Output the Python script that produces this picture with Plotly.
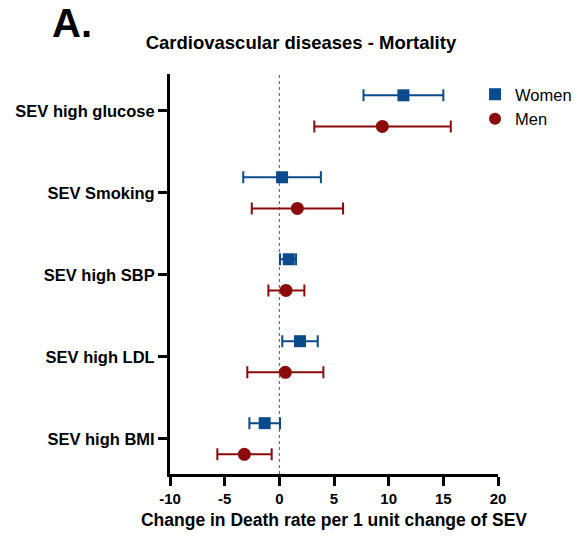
import plotly.graph_objects as go

categories = ["SEV high glucose", "SEV Smoking", "SEV high SBP", "SEV high LDL", "SEV high BMI"]
women_est = [11.35, 0.25, 0.86, 1.89, -1.34]
women_lo = [7.7, -3.3, 0.06, 0.27, -2.74]
women_hi = [15.0, 3.8, 1.53, 3.51, 0.06]
men_est = [9.42, 1.65, 0.61, 0.55, -3.2]
men_lo = [3.2, -2.52, -1.0, -2.93, -5.67]
men_hi = [15.68, 5.83, 2.29, 4.03, -0.7]
x_ticks = [-10, -5, 0, 5, 10, 15, 20]

BLUE = "#0b4a8b"
RED = "#8b0a0a"
OFF = 0.19

pos = list(range(len(categories)))

fig = go.Figure()


def add_series(name, est, lo, hi, color, symbol, size, off):
    fig.add_trace(go.Scatter(
        x=est,
        y=[p + off for p in pos],
        mode="markers",
        name=name,
        marker=dict(color=color, symbol=symbol, size=size),
        error_x=dict(
            type="data", symmetric=False,
            array=[h - e for h, e in zip(hi, est)],
            arrayminus=[e - l for e, l in zip(est, lo)],
            color=color, thickness=2, width=6,
        ),
    ))


add_series("Women", women_est, women_lo, women_hi, BLUE, "square", 12, -OFF)
add_series("Men", men_est, men_lo, men_hi, RED, "circle", 13, OFF)

fig.add_shape(type="line", xref="x", yref="paper", x0=0, x1=0, y0=0, y1=1,
              line=dict(color="#555555", width=1, dash="dot"), layer="below")

fig.add_annotation(text="<b>A.</b>", xref="paper", yref="paper", x=-0.366, y=1.1275,
                   xanchor="left", yanchor="middle", showarrow=False,
                   font=dict(size=40, color="black", family="Arial"))

fig.update_layout(
    width=571, height=532,
    margin=dict(l=162, r=81, t=66, b=66, autoexpand=False),
    paper_bgcolor="white", plot_bgcolor="white",
    font=dict(family="Arial", color="black"),
    title=dict(text="<b>Cardiovascular diseases - Mortality</b>", x=0.513, xanchor="center",
               y=0.936, yanchor="middle", font=dict(size=18.5, color="black")),
    showlegend=True,
    legend=dict(x=0.93, y=0.9925, xanchor="left", yanchor="top",
                font=dict(size=16.5, color="black"), bgcolor="rgba(0,0,0,0)",
                itemsizing="constant", tracegroupgap=0),
    xaxis=dict(range=[-10, 20], tickvals=x_ticks, ticktext=["<b>%d</b>" % t for t in x_ticks],
               showgrid=False, zeroline=False, showline=True, linecolor="black", linewidth=3,
               ticks="outside", ticklen=9, tickwidth=3, tickcolor="black", automargin=False,
               tickfont=dict(size=15, color="black"),
               title=dict(text="<b>Change in Death rate per 1 unit change of SEV</b>",
                          font=dict(size=17.5, color="black"), standoff=8)),
    yaxis=dict(range=[4.43, -0.45], tickvals=pos, ticktext=["<b>" + c + "</b>" for c in categories],
               showgrid=False, zeroline=False, showline=True, linecolor="black", linewidth=3,
               ticks="outside", ticklen=9, tickwidth=3, tickcolor="black", automargin=False,
               tickfont=dict(size=16.5, color="black")),
)

fig.write_html("out.html")
